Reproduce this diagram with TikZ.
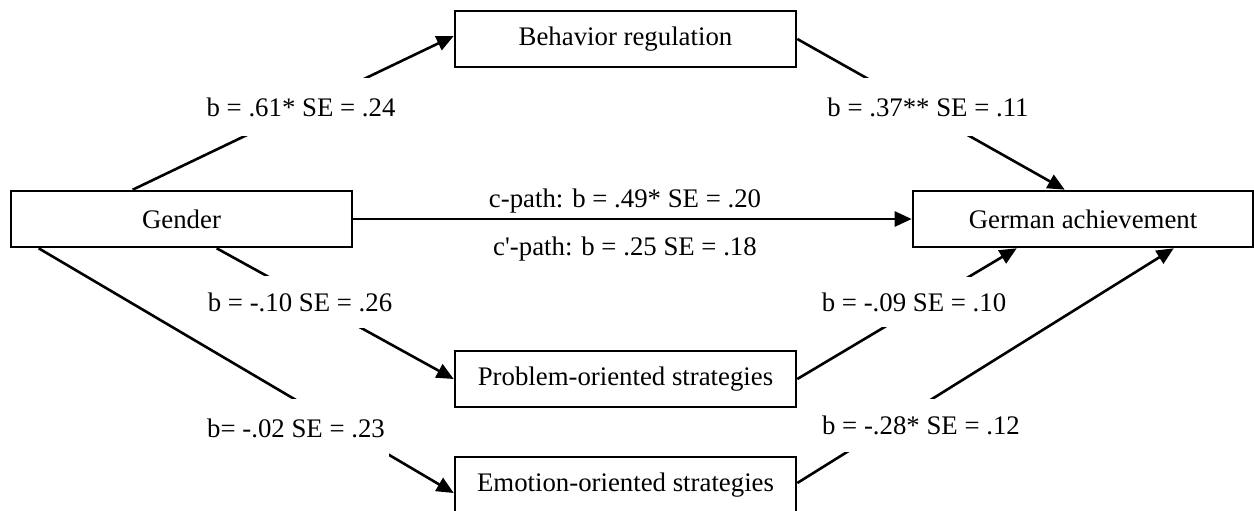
\documentclass[tikz,border=0pt]{standalone}
\usepackage{fontspec}
\setmainfont{Liberation Serif}
\usetikzlibrary{arrows.meta,calc}
\begin{document}
\begin{tikzpicture}[x=0.5pt,y=-0.5pt,
  box/.style={draw,line width=1.3pt,minimum width=170.5pt,minimum height=28pt,inner sep=0pt,font=\fontsize{13.4}{15}\selectfont},
  arr/.style={line width=1.3pt,-{Triangle[length=8.5pt,width=7.5pt]}},
  lbl/.style={fill=white,inner xsep=2pt,inner ysep=0pt,font=\fontsize{13.4}{15}\selectfont},
  ptxt/.style={inner sep=0pt,font=\fontsize{13.4}{15}\selectfont}]
\useasboundingbox (0,0) rectangle (1254,510);
\node[box] (gender) at (181.5,219) {Gender};
\node[box] (behav) at (625.5,39) {Behavior regulation};
\node[box,minimum width=170pt] (german) at (1083,219) {German achievement};
\node[box] (problem) at (625.5,379) {Problem-oriented strategies};
\node[box] (emotion) at (625.5,485) {Emotion-oriented strategies};
% connectors
\draw[arr] ($(gender.north west)+(123,0)$) -- ($(behav.west)+(0,-3)$);
\draw[arr] (behav.east) -- ($(german.north west)+(153,0)$);
\draw[arr] (gender.east) -- (german.west);
\draw[arr] ($(gender.south west)+(207,0)$) -- (problem.west);
\draw[arr] ($(gender.south west)+(29,0)$) -- ($(emotion.west)+(0,8)$);
\draw[arr] (problem.east) -- ($(german.south west)+(105,0)$);
\draw[arr] ($(emotion.east)+(0,-2)$) -- ($(german.south west)+(262,0)$);
% labels
\node[lbl,minimum height=29pt] (l1) at (301,107) {b = .61* SE = .24};
\node[lbl,minimum height=29pt] (l2) at (928,107) {b = .37** SE = .11};
\node[lbl,minimum height=26pt] (l3) at (300,302) {b = -.10 SE = .26};
\node[lbl,minimum height=29pt] (l4) at (296,428) {b= -.02 SE = .23};
\node[lbl,minimum height=25pt] (l5) at (914,302) {b = -.09 SE = .10};
\node[lbl,minimum height=26.5pt] (l6) at (921,425) {b = -.28* SE = .12};
\node[ptxt] (cp) at (625,201) {c-path: b = .49* SE = .20};
\node[ptxt] (cpp) at (625,249) {c\textquotesingle-path: b = .25 SE = .18};
\end{tikzpicture}
\end{document}
